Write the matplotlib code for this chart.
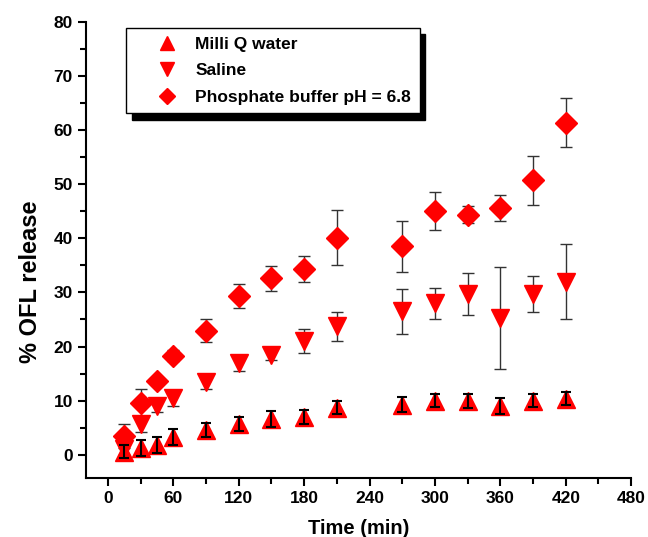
import matplotlib.pyplot as plt
from matplotlib.ticker import MultipleLocator
from matplotlib.lines import Line2D
from matplotlib.legend_handler import HandlerLine2D

plt.rcParams['font.family'] = ['Liberation Sans', 'DejaVu Sans']
plt.rcParams['font.weight'] = 'bold'

# sampling times (min)
t = [15, 30, 45, 60, 90, 120, 150, 180, 210, 270, 300, 330, 360, 390, 420]

# Milli Q water
mq = [0.5, 1.3, 1.8, 3.3, 4.6, 5.6, 6.6, 7.0, 8.7, 9.2, 10.0, 10.0, 9.0, 10.0, 10.3]
mq_err = [1.2, 1.5, 1.5, 1.5, 1.3, 1.3, 1.4, 1.3, 1.2, 1.4, 1.2, 1.3, 1.4, 1.2, 1.2]

# Saline
sal = [1.0, 5.7, 9.0, 10.5, 13.5, 17.0, 18.5, 21.0, 23.7, 26.5, 28.0, 29.7, 25.3, 29.7, 32.0]
sal_err = [1.0, 1.5, 1.2, 1.5, 1.3, 1.5, 1.0, 2.2, 2.7, 4.1, 2.9, 3.8, 9.4, 3.3, 7.0]

# Phosphate buffer pH = 6.8
pb = [3.5, 9.5, 13.6, 18.3, 22.9, 29.4, 32.6, 34.4, 40.1, 38.5, 45.0, 44.4, 45.6, 50.7, 61.4]
pb_err = [2.2, 2.6, 0.8, 1.0, 2.1, 2.2, 2.3, 2.4, 5.1, 4.7, 3.5, 1.5, 2.4, 4.6, 4.6]

fig = plt.figure(figsize=(6.48, 5.37), dpi=100)
ax = fig.add_axes([0.133, 0.110, 0.841, 0.849])

ekw = dict(fmt='none', ecolor='#333333', elinewidth=1, capsize=4, capthick=1)

# phosphate and saline: error bars behind markers
ax.errorbar(t, pb, yerr=pb_err, zorder=2, **ekw)
ax.errorbar(t, sal, yerr=sal_err, zorder=2, **ekw)
ax.plot(t, pb, 'D', color='red', ms=11, mec='red', zorder=3)
ax.plot(t, sal, 'v', color='red', ms=13, mec='red', zorder=3)
ax.plot(t, mq, '^', color='red', ms=13, mec='red', zorder=3)
# Milli Q error bars drawn on top
ax.errorbar(t, mq, yerr=mq_err, fmt='none', ecolor='black', elinewidth=1.5,
            capsize=3.5, capthick=1.5, zorder=4)

# legend proxies
h1, = ax.plot([], [], '^', color='red', ms=10, label='Milli Q water')
h2, = ax.plot([], [], 'v', color='red', ms=10, label='Saline')
h3, = ax.plot([], [], 'D', color='red', ms=8.5, label='Phosphate buffer pH = 6.8')

leg = ax.legend(handles=[h1, h2, h3], loc='upper left', bbox_to_anchor=(0.073, 0.987),
                borderaxespad=0, frameon=True, fancybox=False, edgecolor='black',
                shadow={'ox': 4, 'oy': -4.5, 'color': 'black', 'alpha': 1},
                prop={'size': 12.5, 'weight': 'bold'}, handlelength=2.7,
                handletextpad=0.8, labelspacing=0.65, borderpad=0.5, numpoints=1,
                handler_map={Line2D: HandlerLine2D(xpad=1.0)})
leg.get_frame().set_linewidth(1.0)

ax.set_xlim(-20, 480)
ax.set_ylim(-4.3, 80)
ax.xaxis.set_major_locator(MultipleLocator(60))
ax.xaxis.set_minor_locator(MultipleLocator(30))
ax.yaxis.set_major_locator(MultipleLocator(10))
ax.yaxis.set_minor_locator(MultipleLocator(5))

ax.spines['top'].set_visible(False)
ax.spines['right'].set_visible(False)
ax.spines['left'].set_linewidth(1.5)
ax.spines['bottom'].set_linewidth(1.5)
ax.tick_params(which='major', length=6, width=1.5, labelsize=12.5)
ax.tick_params(which='minor', length=4, width=1.5)
for lab in ax.get_xticklabels() + ax.get_yticklabels():
    lab.set_fontweight('bold')

ax.set_xlabel('Time (min)', fontsize=14.5, fontweight='bold', labelpad=9)
ax.set_ylabel('% OFL release', fontsize=17, fontweight='bold')
ax.yaxis.set_label_coords(-0.081, 0.43)

fig.savefig('out.png', dpi=100)
